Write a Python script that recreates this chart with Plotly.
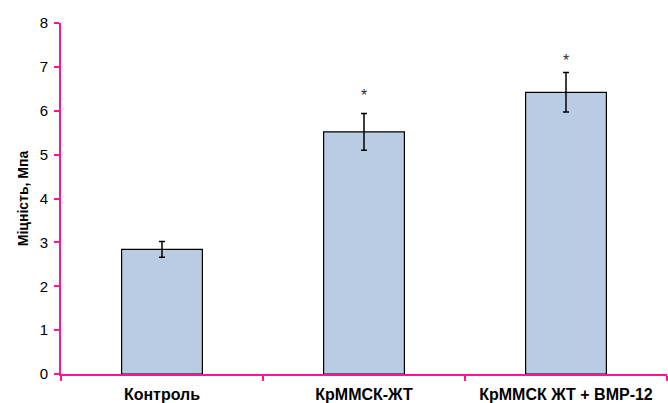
import plotly.graph_objects as go

categories = ["Контроль", "КрММСК-ЖТ", "КрММСК ЖТ + BMP-12"]
values = [2.84, 5.52, 6.42]
errors = [0.18, 0.42, 0.45]
star_labels = ["", "*", "*"]
star_y = [None, 6.32, 7.1]

axis_color = "#ff1493"

fig = go.Figure()
fig.add_trace(go.Bar(
    x=categories, y=values, width=0.4,
    marker=dict(color="#b9cce4", line=dict(color="#000000", width=1.2)),
    error_y=dict(type="data", array=errors, visible=True, color="#000000", thickness=1.5, width=3),
    showlegend=False,
))
fig.add_trace(go.Scatter(
    x=categories, y=star_y, mode="text", text=star_labels,
    textfont=dict(family="Liberation Sans, Arial", size=16, color="#333333"),
    showlegend=False, hoverinfo="skip",
))
fig.update_layout(
    width=668, height=403,
    margin=dict(l=61, r=1, t=23, b=29),
    paper_bgcolor="white", plot_bgcolor="white",
    font=dict(family="Liberation Sans, Arial", color="#000000"),
    bargap=0.6,
)
fig.update_xaxes(
    automargin=False,
    showline=True, linecolor=axis_color, linewidth=2,
    ticks="outside", tickcolor=axis_color, ticklen=5, tickwidth=1.5,
    tickson="boundaries", ticklabelstandoff=5,
    tickfont=dict(size=16, family="Liberation Sans, Arial", weight="bold"),
    showgrid=False, zeroline=False,
)
fig.update_yaxes(
    automargin=False,
    range=[0, 8], dtick=1,
    showline=True, linecolor=axis_color, linewidth=2,
    ticks="outside", tickcolor=axis_color, ticklen=5, tickwidth=1.5,
    ticklabelstandoff=3,
    tickfont=dict(size=15),
    title=dict(text="Міцність, Мпа", font=dict(size=14, weight="bold"), standoff=8),
    showgrid=False, zeroline=False,
)
fig.write_html("out.html", config={"displayModeBar": False},
               post_script="document.body.style.margin='0';")
